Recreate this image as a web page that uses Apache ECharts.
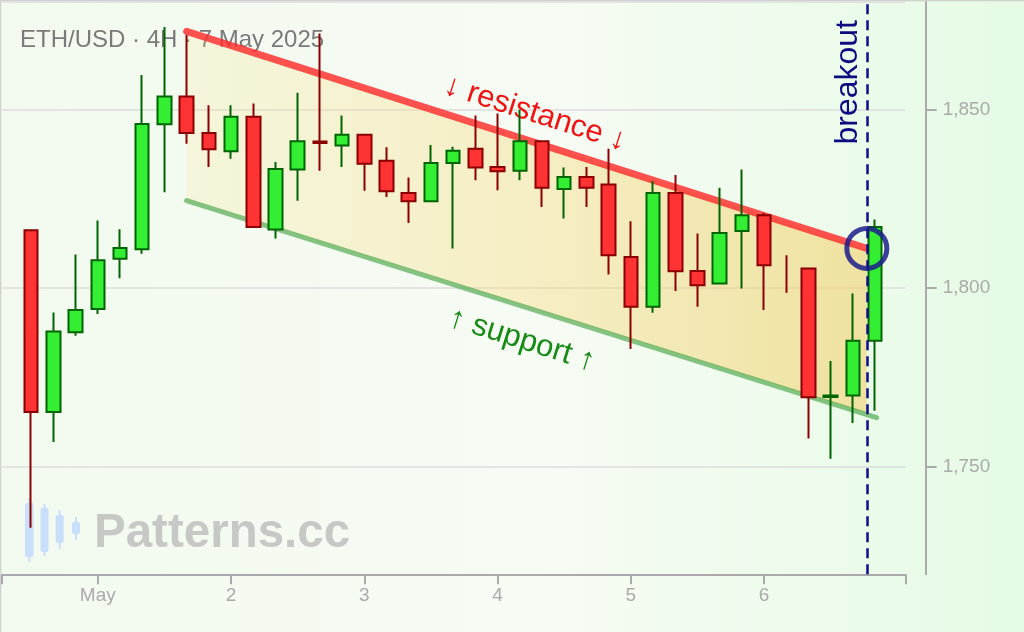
<!DOCTYPE html>
<html>
<head>
<meta charset="utf-8">
<title>ETH/USD 4H</title>
<script src="https://cdn.jsdelivr.net/npm/echarts@6/dist/echarts.min.js"></script>
<style>
  html, body { margin: 0; padding: 0; }
  #chart { width: 1024px; height: 632px; }
</style>
</head>
<body>
<div id="chart"></div>
<script>
// 4H candles, 30 Apr 12:00 .. 6 May 20:00
var times = [
  '2025-04-30 12:00', '2025-04-30 16:00', '2025-04-30 20:00',
  '2025-05-01 00:00', '2025-05-01 04:00', '2025-05-01 08:00', '2025-05-01 12:00', '2025-05-01 16:00', '2025-05-01 20:00',
  '2025-05-02 00:00', '2025-05-02 04:00', '2025-05-02 08:00', '2025-05-02 12:00', '2025-05-02 16:00', '2025-05-02 20:00',
  '2025-05-03 00:00', '2025-05-03 04:00', '2025-05-03 08:00', '2025-05-03 12:00', '2025-05-03 16:00', '2025-05-03 20:00',
  '2025-05-04 00:00', '2025-05-04 04:00', '2025-05-04 08:00', '2025-05-04 12:00', '2025-05-04 16:00', '2025-05-04 20:00',
  '2025-05-05 00:00', '2025-05-05 04:00', '2025-05-05 08:00', '2025-05-05 12:00', '2025-05-05 16:00', '2025-05-05 20:00',
  '2025-05-06 00:00', '2025-05-06 04:00', '2025-05-06 08:00', '2025-05-06 12:00', '2025-05-06 16:00', '2025-05-06 20:00'
];
var opens = [
  1816.2, 1765.4, 1787.7,
  1794.2, 1808.2, 1810.9, 1845.8, 1853.6, 1843.4,
  1838.3, 1847.9, 1816.4, 1833.2, 1841.0, 1839.9,
  1842.9, 1835.6, 1826.6, 1824.3, 1835.0, 1839.0,
  1833.9, 1832.8, 1841.1, 1827.7, 1831.1, 1829.0,
  1808.7, 1794.8, 1826.6, 1804.8, 1801.3, 1816.0,
  1820.4, 1804.0, 1805.5, 1769.6, 1770.0, 1785.3
];
var closes = [
  1765.4, 1787.9, 1793.9,
  1807.8, 1811.2, 1845.9, 1853.6, 1843.4, 1838.8,
  1847.9, 1817.1, 1833.3, 1841.1, 1840.6, 1842.9,
  1834.8, 1827.1, 1824.3, 1835.0, 1838.4, 1833.7,
  1832.7, 1841.1, 1828.1, 1831.1, 1828.1, 1809.2,
  1794.8, 1826.6, 1804.7, 1800.8, 1815.4, 1820.4,
  1806.4, 1804.0, 1769.5, 1770.0, 1785.3, 1817.1
];
var lows = [
  1733.0, 1757.0, 1786.7,
  1792.8, 1802.8, 1809.6, 1826.8, 1840.4, 1833.9,
  1836.2, 1816.9, 1813.9, 1824.4, 1832.8, 1833.9,
  1827.2, 1825.5, 1818.2, 1824.2, 1811.1, 1830.2,
  1827.4, 1830.2, 1822.7, 1819.5, 1822.7, 1803.8,
  1783.0, 1793.1, 1799.2, 1794.8, 1801.0, 1799.9,
  1793.9, 1798.7, 1758.0, 1752.3, 1762.3, 1765.7
];
var highs = [
  1816.4, 1793.2, 1809.4,
  1818.9, 1816.5, 1859.6, 1873.0, 1870.8, 1851.1,
  1851.1, 1851.6, 1835.3, 1854.6, 1871.2, 1848.3,
  1843.2, 1839.4, 1830.9, 1840.0, 1839.5, 1848.3,
  1848.8, 1849.9, 1841.3, 1833.7, 1833.9, 1839.0,
  1818.7, 1829.9, 1831.6, 1815.3, 1828.1, 1833.2,
  1821.0, 1809.2, 1805.8, 1779.6, 1798.5, 1819.2
];
// candles drawn as a bare wick (no body)
var wickOnly = [34];

// channel lines and breakout marker
var resistance = [['2025-05-01 16:00', 1871.8], ['2025-05-06 18:30', 1811.1]];
var support = [['2025-05-01 16:00', 1824.5], ['2025-05-06 20:15', 1763.8]];
var channelFill = [
  ['2025-05-01 16:00', 1871.8], ['2025-05-06 18:30', 1811.1],
  ['2025-05-06 18:30', 1765.0], ['2025-05-01 16:00', 1824.5]
];
var breakoutTime = '2025-05-06 18:30';
var breakoutPrice = 1811.1;

// axes
var xRange = ['2025-04-30 06:45', '2025-05-07 01:30'];
var xLabelDays = ['2025-05-01 00:00', '2025-05-02 00:00', '2025-05-03 00:00', '2025-05-04 00:00', '2025-05-05 00:00', '2025-05-06 00:00'];
var yRange = [1720, 1880];
var monthNames = ['Jan', 'Feb', 'Mar', 'Apr', 'May', 'Jun', 'Jul', 'Aug', 'Sep', 'Oct', 'Nov', 'Dec'];

var FONT = 'Liberation Sans, Arial, sans-serif';
var AXIS_GRAY = '#aaaaaa';

function ts(s) {
  return new Date(s.replace(' ', 'T')).getTime();
}

var candleData = [];
var wickData = [];
times.forEach(function (t, i) {
  var row = [ts(t), opens[i], closes[i], lows[i], highs[i]];
  if (wickOnly.indexOf(i) >= 0) wickData.push(row);
  else candleData.push(row);
});

var xLabelValues = xLabelDays.map(ts);
var xTickValues = [ts(xRange[0])].concat(xLabelValues, [ts(xRange[1])]);

var myChart = echarts.init(document.getElementById('chart'));

var option = {
  animation: false,
  backgroundColor: {
    type: 'linear', x: 0, y: 0, x2: 1, y2: 0,
    colorStops: [
      { offset: 0, color: '#f2faef' },
      { offset: 0.55, color: '#f6fbf3' },
      { offset: 1, color: '#e5fbe5' }
    ]
  },
  textStyle: { fontFamily: FONT },
  grid: { left: 2, right: 118.3, top: 2, bottom: 57.7 },
  xAxis: {
    // time in ms on a plain value axis, ticks placed on day boundaries
    type: 'value',
    min: ts(xRange[0]),
    max: ts(xRange[1]),
    axisLine: { lineStyle: { color: AXIS_GRAY, width: 2 } },
    axisTick: { show: true, length: 10, customValues: xTickValues, lineStyle: { color: AXIS_GRAY, width: 2 } },
    axisLabel: {
      color: AXIS_GRAY, fontSize: 19, margin: 12, fontFamily: FONT,
      customValues: xLabelValues,
      formatter: function (val) {
        var d = new Date(val);
        return d.getDate() === 1 ? monthNames[d.getMonth()] : String(d.getDate());
      }
    },
    splitLine: { show: false }
  },
  yAxis: {
    type: 'value',
    position: 'right',
    offset: 20,
    min: yRange[0],
    max: yRange[1],
    splitNumber: 3,
    axisLine: { show: true, lineStyle: { color: AXIS_GRAY, width: 2 } },
    axisTick: { show: true, length: 11, lineStyle: { color: AXIS_GRAY, width: 2 } },
    axisLabel: {
      color: AXIS_GRAY, fontSize: 19, margin: 17, fontFamily: FONT,
      showMinLabel: false, showMaxLabel: false,
      formatter: function (v) { return v.toLocaleString('en-US'); }
    },
    splitLine: { lineStyle: { color: '#dcdcdc', width: 1.5 } }
  },
  graphic: [
    { type: 'line', z: 0, shape: { x1: 0.5, y1: 0, x2: 0.5, y2: 632 }, style: { stroke: '#d0d0d0', lineWidth: 1.5 } },
    { type: 'line', z: 0, shape: { x1: 0, y1: 0.5, x2: 1024, y2: 0.5 }, style: { stroke: '#d0d0d0', lineWidth: 1.5 } },
    {
      type: 'text', z: 0, x: 20, y: 40,
      style: { text: 'ETH/USD · 4H · 7 May 2025', fill: '#7a7a7a', fontSize: 24, fontFamily: FONT, verticalAlign: 'middle' }
    },
    // watermark
    { type: 'line', z: 0, shape: { x1: 29.3, y1: 498, x2: 29.3, y2: 562 }, style: { stroke: '#c8defa', lineWidth: 2 } },
    { type: 'rect', z: 0, shape: { x: 25, y: 503, width: 8.5, height: 54, r: 2 }, style: { fill: '#c8defa' } },
    { type: 'line', z: 0, shape: { x1: 44.5, y1: 504, x2: 44.5, y2: 556 }, style: { stroke: '#c8defa', lineWidth: 2 } },
    { type: 'rect', z: 0, shape: { x: 40.5, y: 508, width: 8, height: 44, r: 2 }, style: { fill: '#c8defa' } },
    { type: 'line', z: 0, shape: { x1: 59.7, y1: 510, x2: 59.7, y2: 549 }, style: { stroke: '#c8defa', lineWidth: 2 } },
    { type: 'rect', z: 0, shape: { x: 55.7, y: 515, width: 8, height: 28, r: 2 }, style: { fill: '#c8defa' } },
    { type: 'line', z: 0, shape: { x1: 76, y1: 517, x2: 76, y2: 540 }, style: { stroke: '#c8defa', lineWidth: 2 } },
    { type: 'rect', z: 0, shape: { x: 72, y: 522, width: 8, height: 12, r: 2 }, style: { fill: '#c8defa' } },
    {
      type: 'text', z: 0, x: 94, y: 534,
      style: { text: 'Patterns.cc', fill: '#c6c8c6', fontSize: 47.5, fontWeight: 'bold', fontFamily: FONT, verticalAlign: 'middle' }
    }
  ],
  series: [
    {
      // channel fill + resistance / support lines
      type: 'custom',
      z: 1,
      silent: true,
      data: channelFill.map(function (p) { return [ts(p[0]), p[1]]; }),
      encode: { x: 0, y: 1 },
      renderItem: function (params, api) {
        if (params.dataIndex !== 0) return null;
        var pts = channelFill.map(function (p) { return api.coord([ts(p[0]), p[1]]); });
        return {
          type: 'polygon',
          shape: { points: pts },
          style: {
            fill: new echarts.graphic.LinearGradient(0, 0, 1, 0, [
              { offset: 0, color: 'rgba(250, 226, 135, 0.2)' },
              { offset: 1, color: 'rgba(242, 205, 100, 0.55)' }
            ])
          }
        };
      },
      markLine: {
        z: 1.5,
        silent: true,
        symbol: ['none', 'none'],
        data: [
          [
            {
              coord: [ts(resistance[0][0]), resistance[0][1]],
              lineStyle: { color: 'rgba(255, 40, 40, 0.8)', width: 7, type: 'solid', cap: 'round' },
              label: {
                show: true, formatter: '↓ resistance ↓', position: 'insideMiddleTop', distance: 12,
                color: '#ee1414', fontSize: 31, fontFamily: FONT
              }
            },
            { coord: [ts(resistance[1][0]), resistance[1][1]] }
          ],
          [
            {
              coord: [ts(support[0][0]), support[0][1]],
              lineStyle: { color: 'rgba(70, 165, 70, 0.65)', width: 5, type: 'solid', cap: 'round' },
              label: {
                show: true, formatter: '↑ support ↑', position: 'insideMiddleBottom', distance: 17,
                color: '#158a15', fontSize: 31, fontFamily: FONT
              }
            },
            { coord: [ts(support[1][0]), support[1][1]] }
          ]
        ]
      }
    },
    {
      type: 'candlestick',
      z: 3,
      barWidth: 14,
      data: candleData,
      encode: { x: 0, y: [1, 2, 3, 4] },
      itemStyle: {
        color: '#33ee33',
        color0: '#ff3333',
        borderColor: '#006400',
        borderColor0: '#8b0000',
        borderWidth: 2
      },
      markLine: {
        z: 5,
        silent: true,
        symbol: ['none', 'none'],
        data: [
          {
            xAxis: ts(breakoutTime),
            lineStyle: { color: '#0c0c8c', width: 2.5, type: [10, 6] },
            label: {
              show: true, formatter: 'breakout', position: 'insideEndTop', distance: [18, 3],
              color: '#0c0c80', fontSize: 32, fontFamily: FONT
            }
          }
        ]
      },
      markPoint: {
        z: 6,
        silent: true,
        data: [
          {
            coord: [ts(breakoutTime), breakoutPrice],
            symbol: 'circle',
            symbolSize: 40,
            itemStyle: { color: 'rgba(0,0,0,0)', borderColor: 'rgba(28, 28, 140, 0.85)', borderWidth: 5 },
            label: { show: false }
          }
        ]
      }
    },
    {
      type: 'candlestick',
      z: 3,
      barWidth: 0.5,
      data: wickData,
      encode: { x: 0, y: [1, 2, 3, 4] },
      itemStyle: {
        color: '#8b0000',
        color0: '#8b0000',
        borderColor: '#8b0000',
        borderColor0: '#8b0000',
        borderWidth: 2
      }
    }
  ]
};

myChart.setOption(option);
</script>
</body>
</html>
